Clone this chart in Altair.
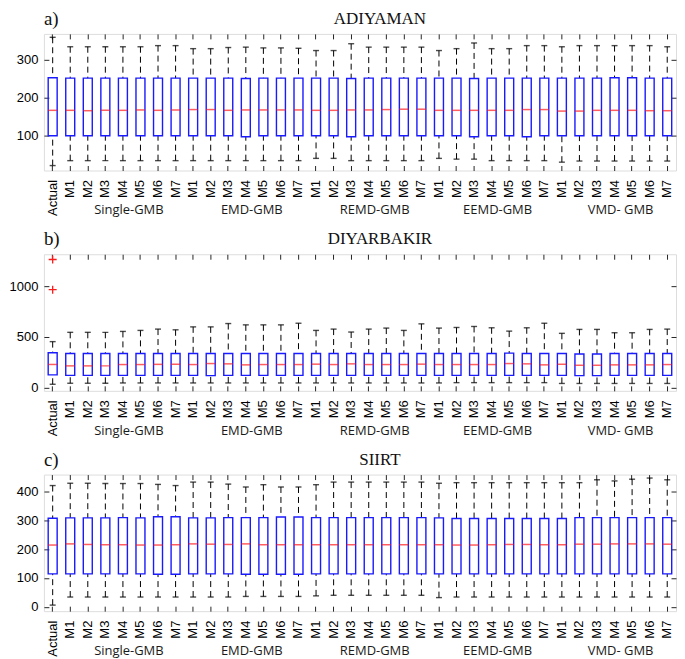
import altair as alt
import pandas as pd

# ---------------- data ----------------
groups = ["Single-GMB", "EMD-GMB", "REMD-GMB", "EEMD-GMB", "VMD- GMB"]
models = ["M1", "M2", "M3", "M4", "M5", "M6", "M7"]
labels = ["Actual"] + models * 5
cats = [f"{i:02d}|{lab}" for i, lab in enumerate(labels)]
group_pos = [cats[1 + 7 * g + 3] for g in range(5)]  # centred under M4 of each group

# ADIYAMAN
a_lo = [21, 34, 34, 34, 34, 34, 34, 34, 34, 34, 34, 34, 34, 34, 34,
        40, 40, 34, 34, 34, 34, 34, 40, 38, 38, 34, 34, 34, 34,
        30, 33, 33, 33, 33, 33, 33]
a_q1 = [100, 100, 100, 100, 100, 100, 100, 100, 100, 100, 100, 97, 100, 100, 100,
        100, 100, 97, 100, 100, 100, 100, 100, 100, 97, 100, 100, 97, 100,
        100, 100, 100, 100, 100, 100, 100]
a_med = [167, 167, 166, 167, 167, 168, 167, 168, 169, 169, 167, 168, 168, 168, 168,
         167, 167, 168, 168, 169, 170, 170, 167, 167, 167, 167, 167, 169, 169,
         165, 165, 167, 167, 167, 166, 166]
a_q3 = [253, 252, 252, 252, 252, 252, 252, 252, 252, 252, 252, 251, 252, 252, 252,
        252, 252, 251, 252, 252, 252, 252, 252, 252, 251, 252, 252, 252, 252,
        252, 252, 252, 253, 253, 252, 252]
a_hi = [360, 335, 335, 335, 335, 335, 338, 338, 330, 330, 333, 334, 332, 332, 331,
        325, 325, 343, 334, 334, 334, 334, 325, 330, 345, 330, 330, 338, 338,
        335, 338, 338, 338, 338, 338, 335]

# DIYARBAKIR
b_lo = [32, 42, 42, 42, 45, 45, 45, 45, 45, 45, 45, 45, 45, 45, 45,
        45, 45, 45, 45, 45, 45, 45, 45, 48, 48, 48, 48, 48, 48,
        40, 40, 40, 40, 40, 40, 40]
b_q1 = [125, 120, 120, 120, 120, 120, 120, 120, 120, 117, 120, 120, 120, 120, 120,
        120, 120, 120, 120, 120, 120, 120, 120, 120, 120, 120, 120, 120, 120,
        120, 118, 118, 120, 120, 120, 120]
b_med = [228, 214, 214, 214, 227, 227, 229, 229, 227, 237, 234, 224, 227, 227, 227,
         231, 227, 234, 227, 227, 227, 231, 227, 227, 227, 227, 237, 234, 224,
         230, 220, 220, 224, 224, 224, 227]
b_q3 = [344, 337, 337, 337, 337, 337, 337, 337, 337, 337, 337, 337, 337, 337, 337,
        337, 337, 337, 337, 337, 337, 337, 337, 337, 337, 337, 340, 337, 337,
        337, 332, 332, 337, 337, 337, 337]
b_hi = [454, 546, 546, 546, 555, 565, 578, 571, 600, 600, 633, 620, 620, 620, 636,
        565, 578, 549, 578, 588, 565, 630, 588, 594, 604, 591, 558, 591, 636,
        536, 575, 575, 542, 542, 575, 578]
b_out_cat = [cats[0], cats[0]]
b_out_val = [1267, 968]

# SIIRT
c_lo = [6, 34, 34, 34, 34, 34, 34, 34, 34, 34, 34, 36, 36, 36, 36,
        38, 40, 40, 40, 40, 40, 40, 32, 34, 34, 34, 34, 34, 34,
        34, 34, 34, 34, 34, 34, 34]
c_q1 = [114, 114, 114, 114, 114, 114, 113, 113, 114, 114, 114, 113, 113, 113, 113,
        114, 114, 114, 114, 114, 114, 114, 114, 114, 114, 114, 114, 114, 114,
        114, 114, 114, 114, 114, 114, 114]
c_med = [214, 218, 216, 215, 215, 214, 214, 215, 218, 217, 216, 218, 215, 215, 215,
         215, 215, 215, 215, 215, 215, 215, 215, 214, 214, 215, 216, 216, 215,
         215, 217, 217, 218, 218, 218, 217]
c_q3 = [307, 308, 308, 308, 309, 308, 312, 312, 308, 308, 309, 309, 309, 311, 311,
        309, 309, 309, 309, 309, 309, 309, 308, 306, 306, 306, 306, 306, 306,
        306, 309, 309, 309, 309, 309, 309]
c_hi = [420, 428, 428, 427, 427, 427, 424, 420, 432, 432, 425, 415, 423, 415, 415,
        423, 432, 432, 432, 432, 432, 432, 428, 430, 430, 430, 430, 430, 430,
        430, 430, 440, 436, 442, 446, 440]

# ---------------- styling ----------------
W = 634
H = 137
FRAME = "#262626"
LABEL_FONT = "Liberation Sans"
DASH = [6, 4]


def panel(tag, name, lo, q1, med, q3, hi, ydomain, yticks, out_cat=None, out_val=None):
    df = pd.DataFrame({"cat": cats, "lo": lo, "q1": q1, "med": med, "q3": q3, "hi": hi})
    xscale = alt.Scale(domain=cats, paddingInner=0.5, paddingOuter=0.25)
    yscale = alt.Scale(domain=ydomain, nice=False, zero=False)

    x_bottom = alt.X("cat:N", scale=xscale, title=None,
                     axis=alt.Axis(orient="bottom", labelAngle=270,
                                   labelExpr="split(datum.value, '|')[1]",
                                   labelFont=LABEL_FONT, labelFontSize=13, labelColor="black",
                                   labelPadding=9, labelOverlap=False,
                                   tickSize=5, offset=-5, domain=False, grid=False,
                                   tickColor=FRAME, tickWidth=1))
    x_top = alt.X("cat:N", scale=xscale, title=None,
                  axis=alt.Axis(orient="top", labels=False, tickSize=5, offset=-5,
                                domain=False, grid=False, tickColor=FRAME, tickWidth=1))
    x_none = alt.X("cat:N", scale=xscale, axis=None)

    y_left = alt.Y("lo:Q", scale=yscale, title=None,
                   axis=alt.Axis(orient="left", values=yticks, format="d", labelFont=LABEL_FONT,
                                 labelFontSize=13, labelColor="black", labelPadding=6,
                                 tickSize=5, offset=-5, domain=False, grid=False,
                                 tickColor=FRAME, tickWidth=1))
    y_right = alt.Y("hi:Q", scale=yscale, title=None,
                    axis=alt.Axis(orient="right", values=yticks, labels=False,
                                  tickSize=5, offset=-5, domain=False, grid=False,
                                  tickColor=FRAME, tickWidth=1))

    base = alt.Chart(df)
    lower = base.mark_rule(color="black", strokeDash=DASH, strokeWidth=1).encode(
        x=x_bottom, y=y_left, y2="q1:Q")
    upper = base.mark_rule(color="black", strokeDash=DASH, strokeWidth=1).encode(
        x=x_top, y=y_right, y2="q3:Q")
    cap_hi = base.mark_tick(color="black", size=6, thickness=1.4).encode(
        x=x_none, y=alt.Y("hi:Q", scale=yscale, axis=None))
    cap_lo = base.mark_tick(color="black", size=6, thickness=1.4).encode(
        x=x_none, y=alt.Y("lo:Q", scale=yscale, axis=None))
    box = base.mark_bar(fillOpacity=0, stroke="#1a1aff", strokeWidth=1.4, size=9).encode(
        x=x_none, y=alt.Y("q1:Q", scale=yscale, axis=None), y2="q3:Q")
    median = base.mark_tick(color="#ff1a1a", size=9, thickness=1.5).encode(
        x=x_none, y=alt.Y("med:Q", scale=yscale, axis=None))

    layers = [lower, upper, cap_hi, cap_lo, box, median]

    if out_cat is not None:
        odf = pd.DataFrame({"cat": out_cat, "v": out_val})
        outl = alt.Chart(odf).mark_point(shape="M-1,0L1,0M0,-1L0,1", size=64, filled=False,
                                         color="#ff1a1a", strokeWidth=1.3, opacity=1).encode(
            x=x_none, y=alt.Y("v:Q", scale=yscale, axis=None))
        layers.append(outl)

    gdf = pd.DataFrame({"cat": group_pos, "g": groups})
    glab = alt.Chart(gdf).mark_text(font="Open Sans", fontSize=13, baseline="alphabetic",
                                    align="center", dx=6, color="#1a1a1a").encode(
        x=x_none, y=alt.value(H + 44), text="g:N")
    layers.append(glab)

    tdf = pd.DataFrame({"t": [name]})
    ttl = alt.Chart(tdf).mark_text(font="Liberation Serif", fontSize=17, baseline="alphabetic",
                                   align="center", color="#111111").encode(
        x=alt.value(W / 2 + 20), y=alt.value(-10), text="t:N")
    layers.append(ttl)

    pdf = pd.DataFrame({"t": [tag]})
    ptag = alt.Chart(pdf).mark_text(font="Liberation Serif", fontSize=19, baseline="alphabetic",
                                    align="left", color="#111111").encode(
        x=alt.value(0), y=alt.value(-9), text="t:N")
    layers.append(ptag)

    return alt.layer(*layers).resolve_axis(x="independent", y="independent").properties(
        width=W, height=H)


pa = panel("a)", "ADIYAMAN", a_lo, a_q1, a_med, a_q3, a_hi, [8, 369], [100, 200, 300])
pb = panel("b)", "DIYARBAKIR", b_lo, b_q1, b_med, b_q3, b_hi, [-33, 1319], [0, 500, 1000],
           b_out_cat, b_out_val)
pc = panel("c)", "SIIRT", c_lo, c_q1, c_med, c_q3, c_hi, [-15, 458], [0, 100, 200, 300, 400])

chart = alt.vconcat(pa, pb, pc, spacing=11).properties(
    padding={"left": 0, "top": 0, "right": 0, "bottom": 0}
).configure_view(stroke=FRAME, strokeWidth=1).configure(background="white")

chart.save("out.html", embed_options={"renderer": "svg", "actions": False})
